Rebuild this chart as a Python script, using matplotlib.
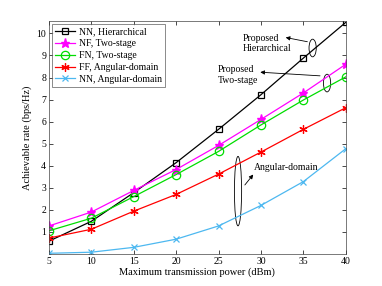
import matplotlib
matplotlib.use("Agg")
import matplotlib.pyplot as plt
from matplotlib.patches import Ellipse

plt.rcParams['font.family'] = ['Liberation Serif', 'DejaVu Serif']
plt.rcParams['mathtext.fontset'] = 'stix'

power = [5, 10, 15, 20, 25, 30, 35, 40]
nn_hier = [0.58, 1.48, 2.78, 4.14, 5.65, 7.22, 8.88, 10.5]
nf_two = [1.27, 1.9, 2.88, 3.83, 4.92, 6.1, 7.3, 8.6]
fn_two = [1.05, 1.62, 2.6, 3.6, 4.65, 5.85, 6.98, 8.03]
ff_ang = [0.72, 1.12, 1.94, 2.7, 3.62, 4.62, 5.65, 6.63]
nn_ang = [0.03, 0.08, 0.3, 0.67, 1.27, 2.2, 3.28, 4.77]

labels = ['NN, Hierarchical', 'NF, Two-stage', 'FN, Two-stage',
          'FF, Angular-domain', 'NN, Angular-domain']

fig = plt.figure(figsize=(3.82, 2.86), dpi=100)
ax = fig.add_axes([0.128, 0.112, 0.777, 0.815])

ax.plot(power, nn_hier, color='black', marker='s', mfc='none', ms=5, lw=0.9, mew=0.9, label=labels[0])
ax.plot(power, nf_two, color='#ff00ff', marker='*', ms=6.5, lw=0.9, label=labels[1])
ax.plot(power, fn_two, color='#00dd00', marker='o', mfc='none', ms=6, lw=0.9, mew=0.9, label=labels[2])
ax.plot(power, ff_ang, color='#ff0000', marker=(6, 2, 0), ms=6, lw=0.9, mew=0.9, label=labels[3])
ax.plot(power, nn_ang, color='#4db8f0', marker='x', ms=4, lw=0.9, mew=0.9, label=labels[4])

ax.set_xlim(5, 40)
ax.set_ylim(0, 10.57)
ax.set_xticks(power)
ax.set_yticks(range(1, 11))
ax.tick_params(direction='in', top=True, right=True, labelsize=7, length=3, width=0.5, pad=2)
for s in ax.spines.values():
    s.set_linewidth(0.5)
    s.set_color('#444444')
ax.set_xlabel('Maximum transmission power (dBm)', fontsize=7.5, labelpad=1)
ax.set_ylabel('Achievable rate (bps/Hz)', fontsize=7.5, labelpad=3)

leg = ax.legend(loc='upper left', fontsize=7, frameon=True, fancybox=False,
                edgecolor='#333333', borderpad=0.35, labelspacing=0.3,
                handlelength=2.0, handletextpad=0.4, borderaxespad=0.3)
leg.get_frame().set_linewidth(0.5)

# Annotations
for (cx, cy, w, h) in [(36.1, 9.34, 0.85, 0.8), (37.8, 7.75, 0.85, 0.8), (27.3, 2.85, 0.85, 3.15)]:
    ax.add_patch(Ellipse((cx, cy), w, h, fill=False, ec='black', lw=0.6))

arrow = dict(arrowstyle='-|>', color='black', lw=0.6, mutation_scale=6)

ax.annotate('', xy=(32.6, 9.84), xytext=(35.8, 9.6), arrowprops=arrow)
ax.text(27.9, 9.55, 'Proposed\nHierarchical', fontsize=7, ha='left', va='center',
        linespacing=1.2)

ax.annotate('', xy=(29.6, 8.25), xytext=(37.3, 8.07), arrowprops=arrow)
ax.text(24.9, 8.12, 'Proposed\nTwo-stage', fontsize=7, ha='left', va='center',
        linespacing=1.2)

ax.annotate('', xy=(29.3, 3.7), xytext=(27.9, 3.03), arrowprops=arrow)
ax.text(29.2, 3.9, 'Angular-domain', fontsize=7, ha='left', va='center')

fig.savefig('out.png', dpi=100)
